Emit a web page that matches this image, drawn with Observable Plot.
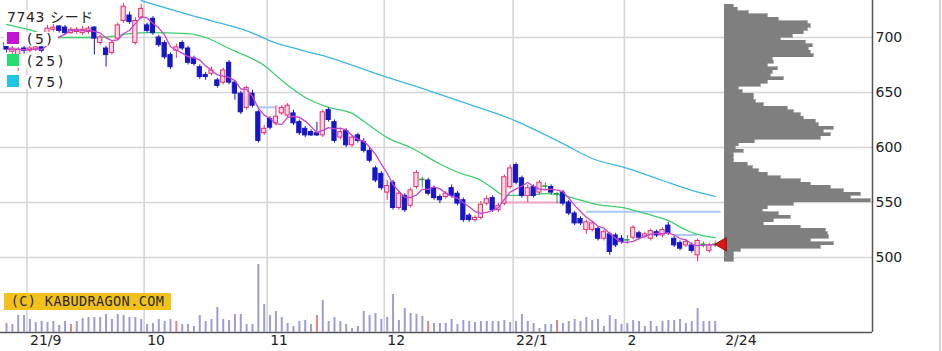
<!DOCTYPE html>
<html lang="ja">
<head>
<meta charset="utf-8">
<title>7743 シード</title>
<script src="https://cdn.jsdelivr.net/npm/d3@7"></script>
<script src="https://cdn.jsdelivr.net/npm/@observablehq/plot@0.6"></script>
<style>
  html, body { margin: 0; padding: 0; background: #fff; }
  #chart { position: relative; width: 942px; height: 351px; overflow: hidden; background: #fff;
    font-family: "DejaVu Sans", "Noto Sans CJK JP", sans-serif; }
  #chart svg { position: absolute; left: 0; top: 0; }
  #edge { position: absolute; left: 939px; top: 0; width: 2px; height: 351px; background: #cfd0e2; }
  .lg { position: absolute; background: #fff; color: #222; font-size: 14px; line-height: 14px; white-space: nowrap; padding-right: 4px; }
  .sw { display: inline-block; width: 12px; height: 12px; vertical-align: top; margin-right: 8px; }
  .lt { letter-spacing: 2.5px; }
  .tt { letter-spacing: 0.6px; }
  #copy { position: absolute; left: 4px; top: 293px; width: 167px; height: 17px; background: #f2c11c; color: #2a2a2a;
    font-family: "DejaVu Sans Mono", monospace; font-size: 13.5px; line-height: 17px; text-align: center; letter-spacing: 0.4px; }
</style>
</head>
<body>
<div id="chart"></div>
<script>
// ---------- data ----------
const titleText = "7743 シード";
const legendLabels = ["(5)", "(25)", "(75)"];
const copyrightText = "(C) KABUDRAGON.COM";

// daily candles, trading-day index 0 = 2021/8/26 ... 121 = 2022/2/24
const open = [695,687,683,690,688,689,691,701,707,710, 709,704,705,704,705,709,695,690,686,699,
  715,720,695,718,711,717,700,695,684,688, 695,690,681,673,666,667,661,659,677,659,
  649,636,649,632,613,626,622,631,629,631, 623,617,614,613,611,634,623,609,615,602,
  611,605,597,581,576,559,568,545,556,547, 564,571,570,563,555,555,563,558,552,538,
  534,536,549,554,543,549,564,584,572,556, 564,559,565,564,558,559,550,540,535,525,
  525,526,517,521,520,517,516,518,522,519, 517,523,520,529,517,513,511,511,502,512,
  506,512];
const high = [697,693,691,692,692,693,693,711,712,711, 711,709,709,710,710,710,702,692,697,713,
  731,723,718,730,713,719,702,697,686,694, 697,692,683,675,668,673,663,672,679,661,
  651,656,652,634,620,628,638,638,640,634, 625,619,616,623,634,636,625,616,617,611,
  613,608,600,583,578,570,570,560,558,563, 579,573,572,565,557,560,566,560,554,540,
  538,551,556,556,549,575,584,586,574,566, 566,570,568,566,559,561,552,542,537,534,
  533,528,525,523,522,520,520,529,524,523, 526,525,527,532,519,515,516,513,517,514,
  513,515];
const low = [686,684,669,685,686,687,686,699,705,704, 702,703,703,702,703,684,693,673,684,697,
  713,712,693,716,704,702,691,680,671,681, 688,675,674,662,661,665,654,657,657,643,
  630,634,636,604,611,616,620,629,627,620, 611,609,610,610,609,623,604,607,600,600,
  604,595,586,568,561,552,543,543,541,545, 562,563,556,552,549,553,554,547,532,532,
  532,534,547,541,541,547,562,566,554,550, 554,557,562,557,549,547,538,529,529,521,
  523,515,515,502,509,512,512,516,516,517, 515,518,518,520,509,506,509,504,496,509,
  504,509];
const close = [689,690,689,688,690,691,688,708,709,706, 704,707,707,707,708,699,700,684,695,711,
  728,714,715,726,706,704,693,682,673,691, 690,677,676,664,664,670,656,670,659,649,
  632,654,638,606,617,618,628,636,638,622, 613,611,611,611,632,625,606,614,602,609,
  606,597,588,570,563,565,545,558,543,561, 577,571,558,554,552,558,556,549,534,534,
  536,548,553,543,547,573,581,568,556,563, 556,568,565,559,558,549,540,531,531,532,
  531,517,523,505,511,514,516,527,518,521, 524,520,525,522,511,508,514,506,515,512,
  511,512];
// volume (relative units)
const volume = [9,8,17,17,13,10,11,10,11,7, 11,8,11,14,15,15,15,18,13,18,
  17,15,15,13,8,9,13,11,13,11, 8,8,6,17,11,13,25,13,12,18,
  18,8,8,68,28,17,21,15,9,6, 11,12,8,17,32,11,15,11,8,4,
  6,21,17,19,13,15,38,12,24,19, 18,16,11,9,9,9,13,8,12,11,
  10,11,11,11,11,12,10,11,18,11, 9,4,8,8,12,9,11,13,11,15,
  12,13,6,17,13,8,9,12,11,6, 11,6,11,12,12,13,9,11,24,11,
  11,11];
const redVolumeDays = [11, 29, 53, 72, 94];

// 25-day and 75-day moving averages (read at sample days)
const ma25Idx = [0,4,9,16,21,24,31,34,38,44,47,51,55,59,62,65,69,74,77,81,83,85,89,92,95,97,101,106,109,113,116,118,121];
const ma25Val = [712,707,700,700,703.5,704.5,703.5,700,690,674.5,661,645.5,636.5,631,620,609,600,585,577.5,570,563,556.5,556.5,558,556.5,553.5,548,544.5,540,533.5,525,521,518];
const ma75Idx = [23,33,38,42,45,50,55,64,72,78,87,95,100,106,112,117,121];
const ma75Val = [733.6,718,711,704,697,689,682,665.5,652,641,624,603.5,590,581,570,561,555.5];

// gap (window) lines
const gapFrom = [43, 85, 99, 114];
const gapTo = [46, 95, 122, 118];
const gapPrice = [636.5, 550, 541.5, 520.5];
const gapKind = ["down", "up", "down", "down"];

// volume-by-price histogram (3-yen bins, lower bound)
const histPrice = [496,499,502,505,508,511,514,517,520,523,526,529,532,535,538,541,544,547,550,553,556,559,562,565,568,571,574,577,580,583,586,589,592,595,598,601,604,607,610,613,616,619,622,625,628,631,634,637,640,643,646,649,652,655,658,661,664,667,670,673,676,679,682,685,688,691,694,697,700,703,706,709,712,715,718,721,724,727];
const histVol = [9,9,9,16,96,109,86,104,103,101,76,39,49,66,54,38,43,69,146,126,136,119,106,86,76,56,43,34,28,23,9,9,9,19,11,14,30,96,106,99,109,94,91,79,76,69,63,39,31,29,29,18,14,36,43,59,46,48,53,43,49,48,89,86,84,88,81,56,68,79,83,86,83,54,43,24,13,9];
const HIST_BIN = 3;

// axes
const yTicks = [500, 550, 600, 650, 700];
const monthStartIdx = [4, 24, 45, 65, 87, 106];
const monthLabels = ["21/9", "10", "11", "12", "22/1", "2"];
const lastDateLabel = "2/24";

// ---------- scales / layout ----------
const W = 942, H = 351;
const X_DOMAIN = [-1.024, 147.86];
const Y_DOMAIN = [431.8, 733.64];
const M = {left: 0, right: 70, top: 0, bottom: 19};

const candles = open.map((o, i) => ({
  i, open: o, high: high[i], low: low[i], close: close[i], volume: volume[i],
  dir: close[i] > o ? "up" : close[i] < o ? "down" : "flat",
  red: redVolumeDays.includes(i)
}));
const ma25 = ma25Idx.map((i, k) => ({i, v: ma25Val[k]}));
const ma75 = ma75Idx.map((i, k) => ({i, v: ma75Val[k]}));
const gaps = gapFrom.map((a, k) => ({a, b: gapTo[k], p: gapPrice[k], kind: gapKind[k]}));
const hist = histPrice.map((p, k) => ({p, v: histVol[k]}));
const months = monthStartIdx.map((i, k) => ({i, label: monthLabels[k]}));
const last = candles[candles.length - 1];

const COL = {up: "#e3306c", upFill: "#ffd8e4", down: "#1616c8", flat: "#2e9a3e"};
const colorOf = d => COL[d.dir];

const main = Plot.plot({
  width: W, height: H,
  marginLeft: M.left, marginRight: M.right, marginTop: M.top, marginBottom: M.bottom,
  x: {type: "linear", domain: X_DOMAIN, axis: null},
  y: {type: "linear", domain: Y_DOMAIN, axis: null},
  style: {background: "transparent", fontFamily: "DejaVu Sans, sans-serif", fontSize: "14px", color: "#222"},
  marks: [
    Plot.ruleY(yTicks, {stroke: "#d6d6d6", strokeWidth: 1.6}),
    Plot.ruleX(months, {x: d => d.i - 0.5, stroke: "#d6d6d6", strokeWidth: 1.6}),
    Plot.ruleY(gaps, {y: "p", x1: "a", x2: "b", stroke: d => d.kind === "up" ? "#f2a6bd" : "#a9c8f2", strokeWidth: 2}),
    Plot.line(ma75, {x: "i", y: "v", stroke: "#3cb8de", strokeWidth: 1.3, curve: "monotone-x"}),
    Plot.line(ma25, {x: "i", y: "v", stroke: "#3ccf6c", strokeWidth: 1.3, curve: "monotone-x"}),
    Plot.ruleX(candles, {x: "i", y1: "low", y2: "high", stroke: colorOf, strokeWidth: 1}),
    Plot.rect(candles.filter(d => d.dir !== "flat"), {
      x1: d => d.i - 0.36, x2: d => d.i + 0.36, y1: "open", y2: "close",
      fill: d => d.dir === "up" ? COL.upFill : COL.down, stroke: colorOf, strokeWidth: 1
    }),
    Plot.ruleY(candles.filter(d => d.dir === "flat"), {
      y: "close", x1: d => d.i - 0.45, x2: d => d.i + 0.45, stroke: COL.flat, strokeWidth: 1.5
    }),
    Plot.lineY(candles, Plot.windowY({k: 5, anchor: "end"}, {x: "i", y: "close", stroke: "#c743cf", strokeWidth: 1.3})),
    Plot.ruleY([Y_DOMAIN[0]], {stroke: "#555", strokeWidth: 1.5}),
    Plot.ruleX([X_DOMAIN[1]], {stroke: "#555", strokeWidth: 1.5}),
    Plot.text(yTicks, {y: d => d, text: d => String(d), frameAnchor: "right", textAnchor: "start", dx: 3, fontSize: 14, fill: "#222"}),
    Plot.text(months, {x: d => d.i - 0.5, text: "label", frameAnchor: "bottom", textAnchor: "start", lineAnchor: "top", dx: 3, dy: 3, fontSize: 14, fill: "#222"}),
    Plot.text([last], {x: "i", text: () => lastDateLabel, frameAnchor: "bottom", textAnchor: "start", lineAnchor: "top", dx: 10, dy: 3, fontSize: 14, fill: "#222"})
  ]
});

const vol = Plot.plot({
  width: W, height: H,
  marginLeft: M.left, marginRight: M.right, marginTop: 232, marginBottom: M.bottom,
  x: {type: "linear", domain: X_DOMAIN, axis: null},
  y: {type: "linear", domain: [0, 100], axis: null},
  style: {background: "transparent"},
  marks: [
    Plot.ruleX(candles, {x: "i", y1: 0, y2: "volume", stroke: d => d.red ? "#d98585" : "#9d9dd3", strokeWidth: 2})
  ]
});

const histPlot = Plot.plot({
  width: W, height: H,
  marginLeft: 724, marginRight: M.right, marginTop: M.top, marginBottom: M.bottom,
  x: {type: "linear", domain: [0, 148], axis: null},
  y: {type: "linear", domain: Y_DOMAIN, axis: null},
  style: {background: "transparent"},
  marks: [
    Plot.rect(hist, {x1: 0, x2: "v", y1: "p", y2: d => d.p + HIST_BIN, fill: "#7f7f7f",
      stroke: "#7f7f7f", strokeWidth: 0.6, shapeRendering: "crispEdges"}),
    Plot.dot([last], {y: "close", frameAnchor: "left", dx: -2, symbol: "triangle", r: 5, rotate: -90, fill: "#e01515", stroke: "#8a0000", strokeWidth: 0.8})
  ]
});

const chart = document.getElementById("chart");
chart.append(main, vol, histPlot);

// legend (HTML overlay)
const edge = document.createElement("div"); edge.id = "edge"; chart.append(edge);
const t = document.createElement("div");
t.className = "lg tt"; t.style.left = "7px"; t.style.top = "10px"; t.textContent = titleText;
chart.append(t);
const legendColors = ["#c612d2", "#22e06e", "#1fc6e0"];
const legendTops = [32, 54, 75];
legendLabels.forEach((lab, k) => {
  const row = document.createElement("div");
  row.className = "lg"; row.style.left = "4px"; row.style.top = legendTops[k] + "px"; row.style.paddingLeft = "3px";
  const sw = document.createElement("span"); sw.className = "sw"; sw.style.background = legendColors[k];
  const tx = document.createElement("span"); tx.className = "lt"; tx.textContent = lab;
  row.append(sw, tx);
  chart.append(row);
});
const cp = document.createElement("div"); cp.id = "copy"; cp.textContent = copyrightText; chart.append(cp);
</script>
</body>
</html>
